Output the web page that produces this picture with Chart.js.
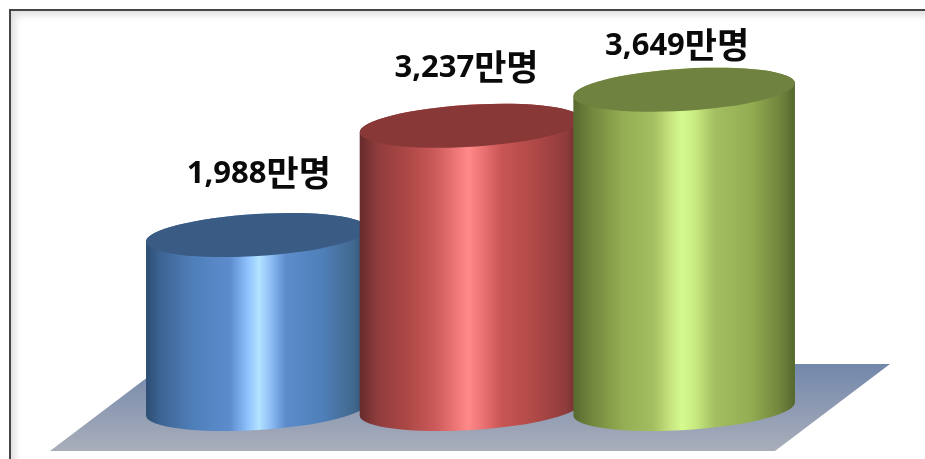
<!DOCTYPE html>
<html lang="ko">
<head>
<meta charset="utf-8">
<title>인원 현황</title>
<script src="https://cdn.jsdelivr.net/npm/chart.js@4/dist/chart.umd.min.js"></script>
<style>
    html, body { margin: 0; padding: 0; background: #fff; overflow: hidden; }
    #wrap { position: relative; width: 925px; height: 459px; }
    #frame {
        position: absolute; left: 9px; top: 9px; right: 0; bottom: 0;
        border-left: 2px solid #454545;
        border-top: 2px solid #454545;
        box-shadow: inset 7px 7px 7px -3px #dedede;
    }
    canvas { position: absolute; left: 0; top: 0; }
</style>
</head>
<body>
<div id="wrap">
    <div id="frame"></div>
    <canvas id="grafico" width="925" height="459"></canvas>
</div>
<script>
// Dados
const categorias = ['1차', '2차', '3차'];
const valores = [1988, 3237, 3649];
const unidade = '만명';

// Deslocamento dos rótulos em relação ao topo de cada cilindro
const rotuloDx = [2, -4, -7];
const rotuloDy = [52, 49, 35];

// Cores: corpo (gradiente horizontal) e tampa
const coresCorpo = [
    [[0, '#2c4d72'], [0.07, '#3d6595'], [0.22, '#5080bb'], [0.38, '#5c8ccc'], [0.46, '#90c2ff'], [0.51, '#b3e4ff'], [0.56, '#8fbff5'], [0.63, '#5c8ccb'], [0.8, '#4f7fb8'], [0.93, '#42698f'], [1, '#2f4f72']],
    [[0, '#652a2a'], [0.08, '#8f3c3c'], [0.22, '#ad4846'], [0.34, '#cb5a5a'], [0.44, '#f07878'], [0.49, '#ff8888'], [0.54, '#f07878'], [0.64, '#c95555'], [0.8, '#ad4846'], [0.93, '#8f3c3c'], [1, '#652a2a']],
    [[0, '#56692f'], [0.08, '#72853d'], [0.22, '#93ad52'], [0.36, '#a3be60'], [0.44, '#c6e47f'], [0.49, '#d4fb90'], [0.55, '#c8ea80'], [0.64, '#a3be60'], [0.8, '#93ad52'], [0.93, '#72853d'], [1, '#55682e']]
];
const coresTampa = ['#3a5b84', '#893838', '#6f823f'];

// Elipse das bases: inclinação leve, como em um gráfico 3D do Office
const ELIPSE_RY = 21;
const ELIPSE_ROT = -3.5 * Math.PI / 180;

class CilindroElement extends Chart.BarElement {
    draw(ctx) {
        const { x, y, base, width } = this.getProps(['x', 'y', 'base', 'width']);
        const i = this.indice;
        const rx = width / 2;

        const grad = ctx.createLinearGradient(x - rx, 0, x + rx, 0);
        coresCorpo[i].forEach(([pos, cor]) => grad.addColorStop(pos, cor));

        ctx.save();
        // corpo: arco inferior + laterais + arco superior
        ctx.beginPath();
        ctx.ellipse(x, base, rx, ELIPSE_RY, ELIPSE_ROT, 0, Math.PI);
        ctx.ellipse(x, y, rx, ELIPSE_RY, ELIPSE_ROT, Math.PI, Math.PI * 2);
        ctx.closePath();
        ctx.fillStyle = grad;
        ctx.fill();

        // tampa
        ctx.beginPath();
        ctx.ellipse(x, y, rx, ELIPSE_RY, ELIPSE_ROT, 0, Math.PI * 2);
        ctx.fillStyle = coresTampa[i];
        ctx.fill();
        ctx.restore();
    }
}
CilindroElement.id = 'cilindro';
CilindroElement.defaults = Chart.BarElement.defaults;

class CilindroController extends Chart.BarController {
    draw() {
        // cada cilindro precisa saber sua posição para escolher as cores
        this._cachedMeta.data.forEach((el, i) => { el.indice = i; });
        super.draw();
    }
}
CilindroController.id = 'cilindro';
CilindroController.defaults = { ...Chart.BarController.defaults, dataElementType: 'cilindro' };
CilindroController.overrides = Chart.BarController.overrides;

Chart.register(CilindroElement, CilindroController);

// Piso em perspectiva atrás dos cilindros
const pisoPlugin = {
    id: 'piso',
    beforeDatasetsDraw(chart) {
        const { ctx, chartArea, scales } = chart;
        const y0 = scales.y.getPixelForValue(0);
        const topo = y0 - 45;
        const baixo = y0 + 42;
        const esq = chartArea.left - 100;
        const dir = chartArea.right - 16;
        const recuo = 115;

        const grad = ctx.createLinearGradient(0, topo, 0, baixo);
        grad.addColorStop(0, '#7287ab');
        grad.addColorStop(1, '#a9aeba');

        ctx.save();
        ctx.beginPath();
        ctx.moveTo(esq, baixo);
        ctx.lineTo(esq + recuo, topo);
        ctx.lineTo(dir + recuo, topo);
        ctx.lineTo(dir, baixo);
        ctx.closePath();
        ctx.fillStyle = grad;
        ctx.fill();
        ctx.restore();
    }
};

// Rótulos com o valor de cada cilindro: número e unidade em fontes separadas
const FONTE_NUM = "bold 31px 'Open Sans'";
const FONTE_UNI = "bold 35px 'Noto Sans CJK KR'";

const rotulosPlugin = {
    id: 'rotulos',
    afterDatasetsDraw(chart) {
        const { ctx } = chart;
        ctx.save();
        ctx.fillStyle = '#0a0a0a';
        ctx.textAlign = 'left';
        ctx.textBaseline = 'alphabetic';
        chart.getDatasetMeta(0).data.forEach((el, i) => {
            const numero = valores[i].toLocaleString('en-US');
            ctx.font = FONTE_NUM;
            const largNum = ctx.measureText(numero).width;
            ctx.font = FONTE_UNI;
            const largUni = ctx.measureText(unidade).width;

            const xIni = el.x + rotuloDx[i] - (largNum + largUni) / 2;
            const yBase = el.y - rotuloDy[i];
            ctx.font = FONTE_NUM;
            ctx.fillText(numero, xIni, yBase);
            ctx.font = FONTE_UNI;
            ctx.fillText(unidade, xIni + largNum, yBase + 3);
        });
        ctx.restore();
    }
};

new Chart(document.getElementById('grafico').getContext('2d'), {
    type: 'cilindro',
    data: {
        labels: categorias,
        datasets: [{
            label: '인원',
            data: valores,
            barThickness: 222,
            clip: false
        }]
    },
    options: {
        responsive: false,
        animation: false,
        layout: {
            padding: { left: 150, right: 134, top: 24, bottom: 50 }
        },
        plugins: {
            legend: { display: false },
            tooltip: { enabled: false }
        },
        scales: {
            x: { display: false, grid: { display: false } },
            y: { display: false, min: 0, max: 4400, grid: { display: false } }
        }
    },
    plugins: [pisoPlugin, rotulosPlugin]
});
</script>
</body>
</html>
